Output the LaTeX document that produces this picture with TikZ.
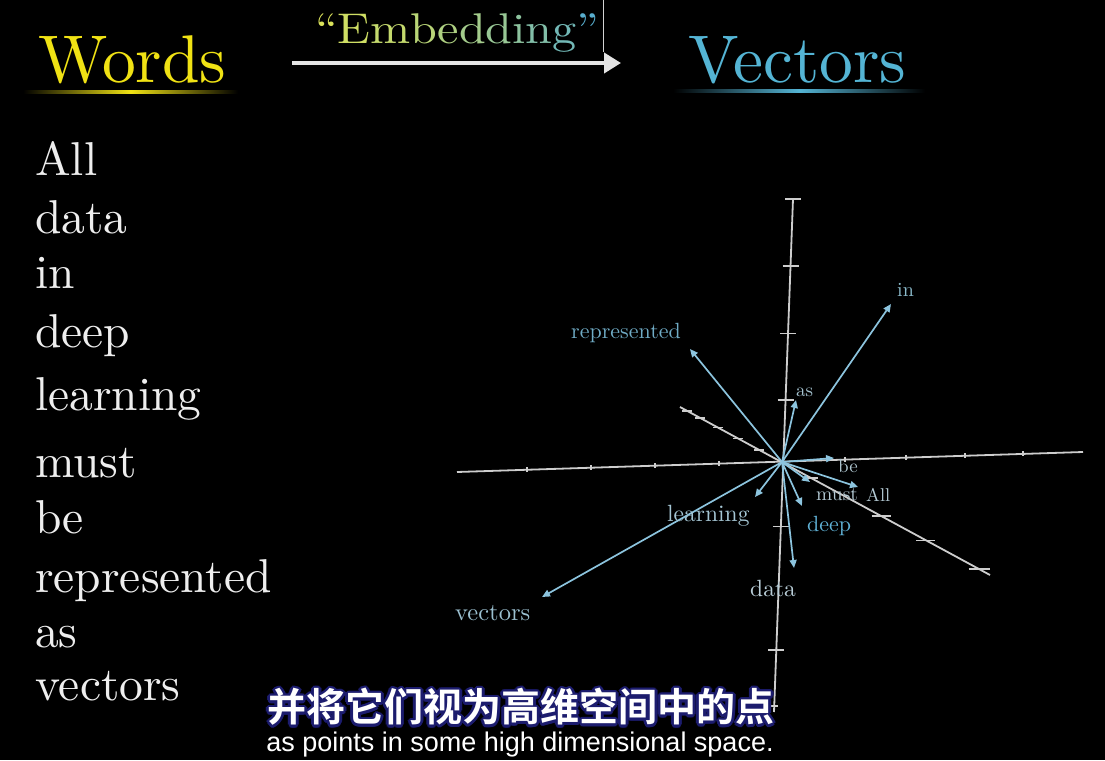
\documentclass[tikz,border=0pt]{standalone}
\usepackage{fontspec}
\usepackage{graphicx}
\setmainfont{lmroman10}[Extension=.otf, UprightFont=*-regular, BoldFont=*-bold, ItalicFont=*-italic, BoldItalicFont=*-bolditalic]
\newfontfamily\cjk{Noto Sans CJK SC}[BoldFont={Noto Sans CJK SC Bold}]
\newfontfamily\subsans{Liberation Sans}
\usetikzlibrary{arrows.meta,calc}
\definecolor{wordyellow}{RGB}{240,226,20}
\definecolor{vecblue}{RGB}{84,180,212}
\definecolor{axisgray}{RGB}{205,205,205}
\definecolor{arrowgray}{RGB}{228,228,228}
\definecolor{arrowblue}{RGB}{140,196,222}
\definecolor{embA}{RGB}{218,226,90}
\definecolor{embB}{RGB}{80,170,212}
\definecolor{navy}{RGB}{28,28,110}
\definecolor{textwhite}{RGB}{238,238,238}
\newcommand\fsz[1]{\fontsize{#1}{#1}\selectfont}
\tikzset{
  leftword/.style={anchor=base west, inner sep=0pt, text=textwhite, font=\fsz{47.5}},
  axisline/.style={line width=1.8pt, draw=axisgray},
  ticksty/.style={line width=1.6pt, draw=axisgray},
  vecarrow/.style={line width=1.7pt, draw=arrowblue, -{Triangle[length=8pt,width=7pt]}},
  veclabel/.style={anchor=base west, inner sep=0pt},
}
\begin{document}
\begin{tikzpicture}[x=1pt,y=-1pt]
\fill[black] (0,0) rectangle (1105,760);
\useasboundingbox (0,0) rectangle (1105,760);

% titles
\node[anchor=base west, inner sep=0pt, text=wordyellow, font=\fsz{67.5}] (words) at (38,82) {Words};
\shade[left color=black, right color=black, middle color=wordyellow] (23,90.5) rectangle (238,93);
\node[anchor=base west, inner sep=0pt, text=vecblue, font=\fsz{67.5}] (vectorsT) at (688,82) {Vectors};
\shade[left color=black, right color=black, middle color=vecblue] (673,89.5) rectangle (925,92);
\node[anchor=base west, inner sep=0pt, font=\fsz{43}] (emb) at (315,44) {\scalebox{1.12}[1]{%
\textcolor{embA!100!embB}{``}\textcolor{embA!92!embB}{E}\textcolor{embA!84!embB}{m}\textcolor{embA!76!embB}{b}\textcolor{embA!68!embB}{e}\textcolor{embA!60!embB}{d}\textcolor{embA!52!embB}{d}\textcolor{embA!44!embB}{i}\textcolor{embA!36!embB}{n}\textcolor{embA!25!embB}{g}\textcolor{embA!6!embB}{''}}};
\coordinate (aS) at (292,63);
\coordinate (aE) at (621,63);
\draw[line width=4pt, draw=arrowgray, -{Triangle[length=17pt,width=20pt]}] (aS) -- (aE);
\coordinate (mkT) at (603.5,0);
\coordinate (mkB) at (603.5,52);
\draw[line width=0.5pt, draw=gray!35] (mkT) -- (mkB);

% left words
\node[leftword] (w1) at (35,175) {All};
\node[leftword] (w2) at (35,233) {data};
\node[leftword] (w3) at (35,288) {in};
\node[leftword] (w4) at (35,347) {deep};
\node[leftword] (w5) at (35,410) {learning};
\node[leftword] (w6) at (35,477) {must};
\node[leftword] (w7) at (35,533) {be};
\node[leftword] (w8) at (35,592) {represented};
\node[leftword] (w9) at (35,647) {as};
\node[leftword] (w10) at (35,700) {vectors};

% axes
\coordinate (hL) at (457,472);
\coordinate (hR) at (1083,452);
\coordinate (vT) at (793,199);
\coordinate (vB) at (774,712);
\coordinate (dA) at (680,407);
\coordinate (dB) at (990,575);
\draw[axisline] (hL) -- (hR);
\draw[axisline] (vT) -- (vB);
\draw[axisline] (dA) -- (dB);
\foreach \t in {0.1118,0.214,0.3163,0.4185,0.6198,0.7173,0.8115,0.904}
  \draw[ticksty] ($(hL)!\t!(hR)$) +(0,-2.5) -- +(0,2.5);
\foreach \t in {0,0.1311,0.2622,0.3914,0.638,0.8787}
  \draw[ticksty] ($(vT)!\t!(vB)$) +(-8,0) -- +(8,0);
\draw[ticksty] ($(vT)!0.9883!(vB)$) +(-4,0) -- +(4,0);
\foreach \t in {0.0226,0.0645,0.1226,0.1871,0.2548}
  \draw[ticksty] ($(dA)!\t!(dB)$) +(-5,0) -- +(5,0);
\draw[ticksty] ($(dA)!0.4226!(dB)$) +(-7,0) -- +(7,0);
\draw[ticksty] ($(dA)!0.6484!(dB)$) +(-9.5,0) -- +(9.5,0);
\draw[ticksty] ($(dA)!0.7935!(dB)$) +(-9.5,0) -- +(9.5,0);
\draw[ticksty] ($(dA)!0.965!(dB)$) +(-10.5,0) -- +(10.5,0);

% vectors
\coordinate (O) at (782,462);
\coordinate (tIn) at (891,304);
\coordinate (tRep) at (690,349);
\coordinate (tAs) at (796,400);
\coordinate (tBe) at (834,458);
\coordinate (tAll) at (858,487);
\coordinate (tMust) at (810,482);
\coordinate (tDeep) at (802,506);
\coordinate (tData) at (794,568);
\coordinate (tLearn) at (755,497);
\coordinate (tVec) at (542,597);
\foreach \p in {tIn,tRep,tAs,tBe,tAll,tMust,tDeep,tData,tLearn,tVec}
  \draw[vecarrow] (O) -- (\p);

% vector labels
\node[veclabel, text={rgb,255:red,112;green,172;blue,198}, font=\fsz{22}] (lRep) at (571,338) {represented};
\node[veclabel, text={rgb,255:red,140;green,188;blue,205}, font=\fsz{20}] (lIn) at (897,296) {in};
\node[veclabel, text={rgb,255:red,165;green,195;blue,208}, font=\fsz{19}] (lAs) at (796,396) {as};
\node[veclabel, text={rgb,255:red,175;green,198;blue,208}, font=\fsz{19}] (lBe) at (838,472) {be};
\node[veclabel, text={rgb,255:red,180;green,202;blue,212}, font=\fsz{19.5}] (lMust) at (816,500) {must};
\node[veclabel, text={rgb,255:red,180;green,202;blue,212}, font=\fsz{18.5}] (lAll) at (866,501) {All};
\node[veclabel, text={rgb,255:red,165;green,198;blue,212}, font=\fsz{23.5}] (lLearn) at (667,521) {learning};
\node[veclabel, text={rgb,255:red,95;green,176;blue,212}, font=\fsz{22}] (lDeep) at (807,531) {deep};
\node[veclabel, text={rgb,255:red,185;green,206;blue,216}, font=\fsz{23.5}] (lData) at (750,596) {data};
\node[veclabel, text={rgb,255:red,155;green,192;blue,208}, font=\fsz{24.5}] (lVec) at (455,620) {vectors};

% subtitles
\foreach \a [count=\i] in {0,30,...,330}
  \node[inner sep=0pt, text=navy, font=\cjk\bfseries\fsz{39}] (sh\i) at ($(521,707)+(\a:2.8)$) {并将它们视为高维空间中的点};
\node[inner sep=0pt, text=white, font=\cjk\bfseries\fsz{39}] (subcn) at (521,707) {并将它们视为高维空间中的点};
\node[anchor=base, inner sep=0pt, text=white, font=\subsans\fsz{27}] (suben) at (520,751) {as points in some high dimensional space.};
\end{tikzpicture}
\end{document}
